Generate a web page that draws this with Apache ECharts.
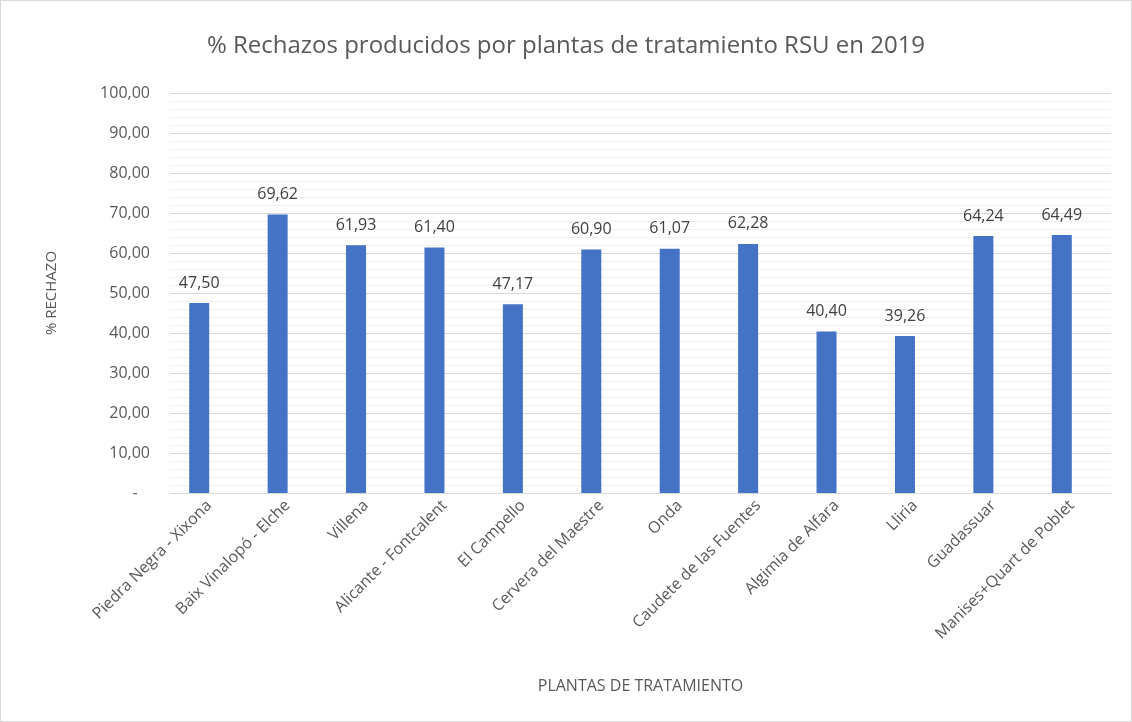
<!DOCTYPE html>
<html>
<head>
<meta charset="utf-8">
<script src="https://cdn.jsdelivr.net/npm/echarts@6/dist/echarts.min.js"></script>
<style>
    html, body { margin: 0; padding: 0; background: #fff; }
    #chart { width: 1130px; height: 720px; border: 1px solid #d9d9d9; }
</style>
</head>
<body>
<div id="chart"></div>
<script>
// plantas de tratamiento
const plantas = [
    'Piedra Negra - Xixona', 'Baix Vinalopó - Elche', 'Villena', 'Alicante - Fontcalent',
    'El Campello', 'Cervera del Maestre', 'Onda', 'Caudete de las Fuentes',
    'Algimia de Alfara', 'Lliria', 'Guadassuar', 'Manises+Quart de Poblet'
]
// % rechazo
const rechazo = [47.50, 69.62, 61.93, 61.40, 47.17, 60.90, 61.07, 62.28, 40.40, 39.26, 64.24, 64.49]
// serie vacía (hueco a la derecha de cada barra, como en Excel)
const vacia = plantas.map(() => null)

const fmt = (v) => v.toFixed(2).replace('.', ',')
const txt = '#595959'
const fam = 'Open Sans'

const chart = echarts.init(document.getElementById('chart'))
chart.setOption({
    animation: false,
    textStyle: { fontFamily: fam },
    title: {
        text: '% Rechazos producidos por plantas de tratamiento RSU en 2019',
        left: 'center',
        top: 28,
        textStyle: { fontSize: 24, fontWeight: 'normal', color: txt, fontFamily: fam }
    },
    grid: { left: 169, right: 20, top: 92, bottom: 228 },
    xAxis: {
        type: 'category',
        data: plantas,
        name: 'PLANTAS DE TRATAMIENTO',
        nameLocation: 'middle',
        nameGap: 185,
        nameTextStyle: { fontSize: 16, color: txt },
        axisLine: { lineStyle: { color: '#d9d9d9', width: 1 } },
        axisTick: { show: false },
        axisLabel: { rotate: 45, fontSize: 16, color: txt, interval: 0, margin: 10 }
    },
    yAxis: {
        type: 'value',
        min: 0,
        max: 100,
        interval: 10,
        name: '% RECHAZO',
        nameLocation: 'middle',
        nameGap: 111,
        nameTextStyle: { fontSize: 15, color: txt },
        axisLine: { show: false },
        axisTick: { show: false },
        axisLabel: {
            fontSize: 16, color: txt, margin: 20,
            formatter: (v) => v === 0 ? '-   ' : fmt(v)
        },
        splitLine: { lineStyle: { color: '#d9d9d9', width: 1 } },
        minorTick: { show: false, splitNumber: 5 },
        minorSplitLine: { show: true, lineStyle: { color: '#f0f0f0', width: 1 } }
    },
    series: [
        {
            name: '% Rechazo',
            type: 'bar',
            data: rechazo,
            barWidth: 20,
            barGap: '0%',
            itemStyle: { color: '#4472c4' },
            label: {
                show: true,
                position: 'top',
                distance: 12,
                fontSize: 16,
                color: '#404040',
                formatter: (p) => fmt(p.value)
            }
        },
        {
            name: 'vacia',
            type: 'bar',
            data: vacia,
            barWidth: 20
        }
    ]
})
</script>
</body>
</html>
